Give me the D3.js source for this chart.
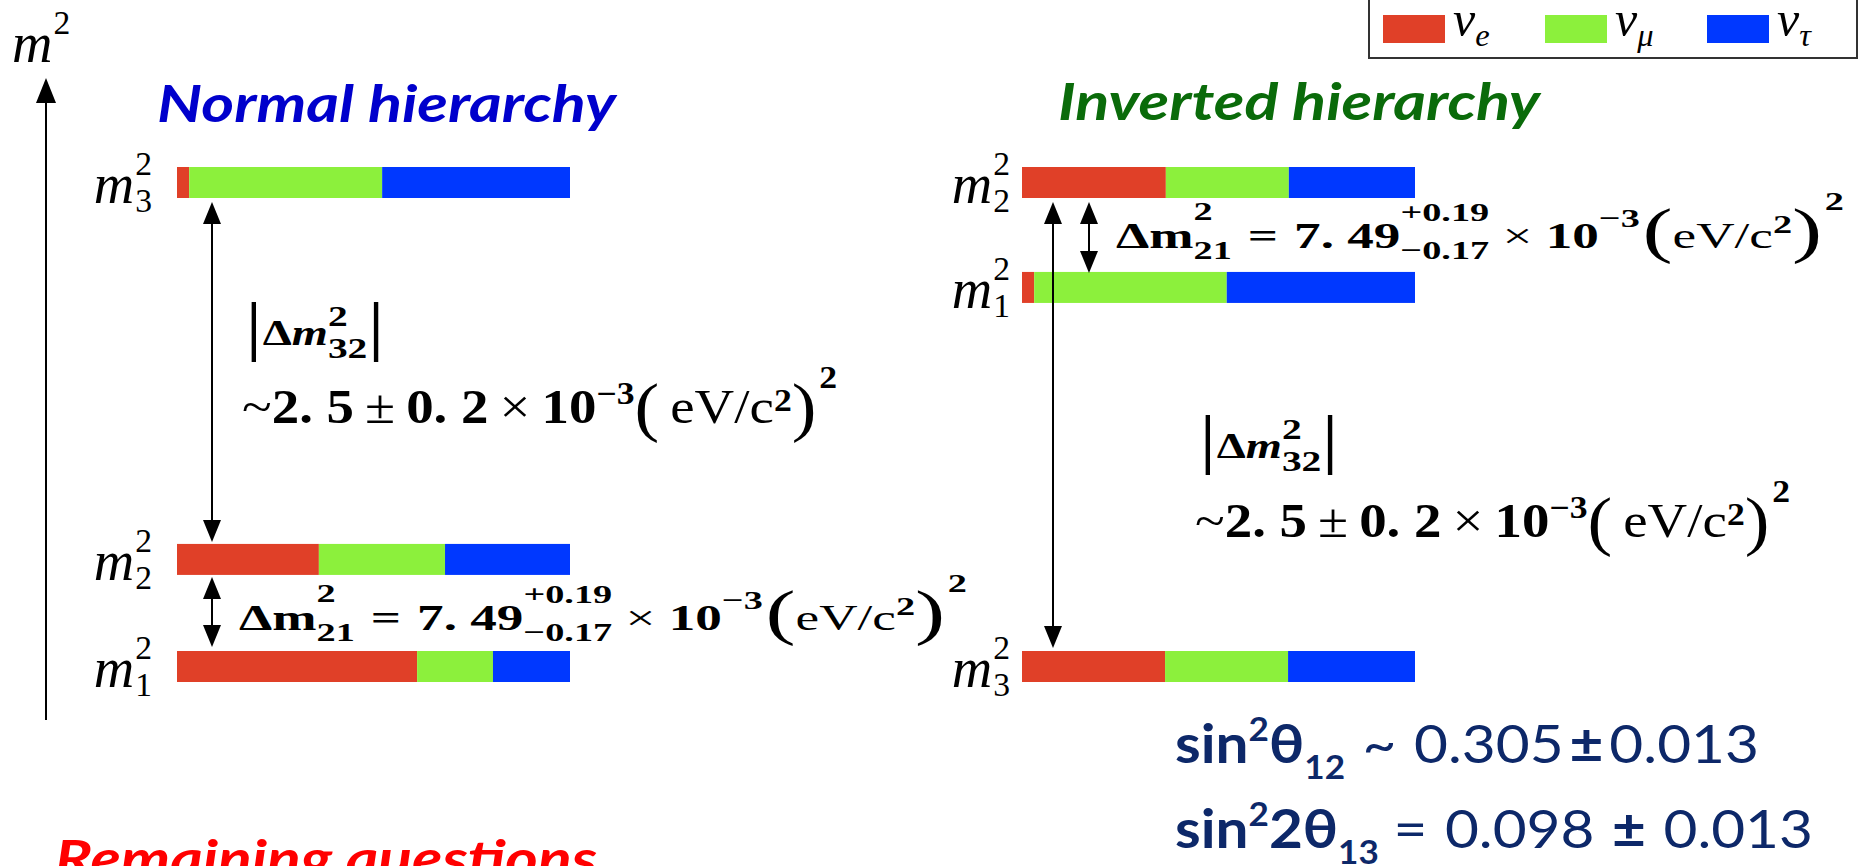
<!DOCTYPE html>
<html>
<head>
<meta charset="utf-8">
<script src="https://cdn.jsdelivr.net/npm/d3@7"></script>
<style>
  body { margin: 0; background: #fff; }
  svg { display: block; }
</style>
</head>
<body>
<div id="chart"></div>
<script>
// flavour content of each mass state, as a fraction of the bar
var flavours = ['e', 'μ', 'τ'];
var flavourColors = ['#e04028', '#8cf03c', '#0038ff'];

// normal hierarchy, top to bottom
var nhStates = ['3', '2', '1'];
var nhLevels = [4.52, 1, 0];
var nhMix = [
  [0.031, 0.491, 0.478],
  [0.361, 0.321, 0.318],
  [0.611, 0.193, 0.196]
];

// inverted hierarchy, top to bottom
var ihStates = ['2', '1', '3'];
var ihLevels = [4.52, 3.54, 0];
var ihMix = [
  [0.366, 0.313, 0.321],
  [0.031, 0.490, 0.479],
  [0.364, 0.313, 0.323]
];

var titles = ['Normal hierarchy', 'Inverted hierarchy'];
var dm21 = ['7. 49', '+0.19', '−0.17'];
var dm32 = ['2. 5', '0. 2'];
var sin12 = ['0.305', '0.013'];
var sin13 = ['0.098', '0.013'];
var footer = 'Remaining questions';

var SERIF = "'Liberation Serif', 'Times New Roman', serif";
var SANS = "Lato, 'Open Sans', 'Noto Sans', sans-serif";
var NAVY = '#0d2869';

var W = 1860, H = 866;
var barH = 31;

var svg = d3.select('#chart').append('svg')
    .attr('width', W)
    .attr('height', H);

// m^2 levels -> pixel (bar top)
var y = d3.scaleLinear().domain([0, 4.52]).range([651, 167]);
var xNH = d3.scaleLinear().domain([0, 1]).range([177, 570]);
var xIH = d3.scaleLinear().domain([0, 1]).range([1022, 1415]);

// lay out a run of text pieces (sup/sub stacks allowed), then squeeze to a width
function drawRun(parts, opt) {
    var g = svg.append('g');
    var cx = 0;
    parts.forEach(function(p) {
        var group = p.stack || [p];
        var w = 0;
        group.forEach(function(q) {
            var t = g.append('text')
                .attr('x', cx)
                .attr('y', opt.y + (q.dy || 0) * opt.size)
                .attr('font-family', q.fam || opt.family)
                .attr('font-size', (q.s || 1) * opt.size)
                .attr('font-weight', q.b ? 'bold' : 'normal')
                .attr('font-style', q.i ? 'italic' : 'normal')
                .attr('fill', opt.fill || '#000')
                .text(q.t);
            w = Math.max(w, t.node().getComputedTextLength());
        });
        cx += w + (p.gap || 0) * opt.size;
    });
    var sx = opt.width ? opt.width / cx : 1;
    var x0 = opt.anchor === 'end' ? opt.x - cx * sx : opt.x;
    g.attr('transform', 'translate(' + x0 + ',0) scale(' + sx + ',1)');
    return g;
}

function arrow(x, y1, y2, both, hw, hl) {
    var g = svg.append('g');
    g.append('line')
        .attr('x1', x).attr('x2', x)
        .attr('y1', y1 + hl * 0.8)
        .attr('y2', both ? y2 - hl * 0.8 : y2)
        .attr('stroke', '#000')
        .attr('stroke-width', 2);
    var line = d3.line();
    g.append('path')
        .attr('d', line([[x, y1], [x - hw / 2, y1 + hl], [x + hw / 2, y1 + hl]]) + 'Z')
        .attr('fill', '#000');
    if (both) {
        g.append('path')
            .attr('d', line([[x, y2], [x - hw / 2, y2 - hl], [x + hw / 2, y2 - hl]]) + 'Z')
            .attr('fill', '#000');
    }
}

function massLabel(xRight, level, idx) {
    drawRun([
        { t: 'm', i: 1, gap: 0.02 },
        { stack: [{ t: '2', s: 0.6, dy: -0.5 }, { t: idx, s: 0.6, dy: 0.16 }] }
    ], { x: xRight, y: y(level) + 36, size: 56, family: SERIF, anchor: 'end' });
}

function drawBars(states, levels, mix, x) {
    states.forEach(function(s, i) {
        var ends = d3.cumsum(mix[i]);
        mix[i].forEach(function(v, j) {
            svg.append('rect')
                .attr('x', x(ends[j] - v))
                .attr('y', y(levels[i]))
                .attr('width', x(ends[j]) - x(ends[j] - v))
                .attr('height', barH)
                .attr('fill', flavourColors[j]);
        });
    });
}

function dm21Run(x0, base) {
    return drawRun([
        { t: 'Δm', b: 1 },
        { stack: [{ t: '2', b: 1, s: 0.72, dy: -0.78 }, { t: '21', b: 1, s: 0.72, dy: 0.3 }], gap: 0.3 },
        { t: '=', b: 1, gap: 0.3 },
        { t: dm21[0], b: 1 },
        { stack: [{ t: dm21[1], b: 1, s: 0.72, dy: -0.76 }, { t: dm21[2], b: 1, s: 0.72, dy: 0.3 }], gap: 0.25 },
        { t: '×', gap: 0.25 },
        { t: '10', b: 1 },
        { t: '−3', b: 1, s: 0.72, dy: -0.58, gap: 0.05 },
        { t: '(', s: 1.7, dy: 0.08 },
        { t: 'eV/c' },
        { t: '2', b: 1, s: 0.72, dy: -0.43 },
        { t: ')', s: 1.7, dy: 0.08, gap: 0.05 },
        { t: '2', b: 1, s: 0.72, dy: -1.05 }
    ], { x: x0, y: base, size: 36, family: SERIF, width: 728 });
}

function dm32Label(x0, base) {
    drawRun([
        { t: '|', s: 1.9, dy: 0.1 },
        { t: 'Δ', b: 1 },
        { t: 'm', b: 1, i: 1 },
        { stack: [{ t: '2', b: 1, s: 0.85, dy: -0.55 }, { t: '32', b: 1, s: 0.85, dy: 0.38 }] },
        { t: '|', s: 1.9, dy: 0.1 }
    ], { x: x0, y: base, size: 35, family: SERIF, width: 140 });
}

function dm32Run(x0, base) {
    drawRun([
        { t: '~' },
        { t: dm32[0], b: 1, gap: 0.2 },
        { t: '±', gap: 0.2 },
        { t: dm32[1], b: 1, gap: 0.2 },
        { t: '×', gap: 0.2 },
        { t: '10', b: 1 },
        { t: '−3', b: 1, s: 0.65, dy: -0.4 },
        { t: '(', s: 1.35, dy: 0.12, gap: 0.2 },
        { t: 'eV/c' },
        { t: '2', b: 1, s: 0.65, dy: -0.25 },
        { t: ')', s: 1.35, dy: 0.12, gap: 0.05 },
        { t: '2', b: 1, s: 0.65, dy: -0.72 }
    ], { x: x0, y: base, size: 48, family: SERIF, width: 595 });
}

function draw() {
    // vertical m^2 axis
    arrow(46, 78, 720, false, 20, 25);
    drawRun([{ t: 'm', i: 1, gap: 0.02 }, { t: '2', s: 0.6, dy: -0.5 }],
        { x: 12, y: 62, size: 56, family: SERIF });

    // titles
    drawRun([{ t: titles[0], b: 1, i: 1 }],
        { x: 157, y: 122, size: 51, family: SANS, fill: '#0000cc', width: 459 });
    drawRun([{ t: titles[1], b: 1, i: 1 }],
        { x: 1058, y: 120, size: 51, family: SANS, fill: '#0a6b0a', width: 482 });

    // bars
    drawBars(nhStates, nhLevels, nhMix, xNH);
    drawBars(ihStates, ihLevels, ihMix, xIH);
    nhStates.forEach(function(s, i) { massLabel(152, nhLevels[i], s); });
    ihStates.forEach(function(s, i) { massLabel(1010, ihLevels[i], s); });

    // splittings, normal
    arrow(212, y(nhLevels[0]) + barH + 4, y(nhLevels[1]) - 2, true, 18, 22);
    arrow(212, y(nhLevels[1]) + barH + 2, y(nhLevels[2]) - 4, true, 18, 22);
    dm32Label(245, 345);
    dm32Run(242, 423);
    dm21Run(239, 630);

    // splittings, inverted
    arrow(1053, y(ihLevels[0]) + barH + 4, y(ihLevels[2]) - 3, true, 18, 22);
    arrow(1089, y(ihLevels[0]) + barH + 4, y(ihLevels[1]) + 1, true, 18, 22);
    dm21Run(1116, 248);
    dm32Label(1199, 458);
    dm32Run(1195, 537);

    // mixing angles
    drawRun([
        { t: 'sin', b: 1 },
        { t: '2', b: 1, s: 0.6, dy: -0.42 },
        { t: 'θ', b: 1 },
        { t: '12', b: 1, s: 0.6, dy: 0.3, gap: 0.3 },
        { t: '~', gap: 0.3 },
        { t: sin12[0], gap: 0.1 },
        { t: '±', b: 1, gap: 0.1 },
        { t: sin12[1] }
    ], { x: 1175, y: 763, size: 53, family: SANS, fill: NAVY, width: 584 });
    drawRun([
        { t: 'sin', b: 1 },
        { t: '2', b: 1, s: 0.6, dy: -0.42 },
        { t: '2θ', b: 1 },
        { t: '13', b: 1, s: 0.6, dy: 0.3, gap: 0.25 },
        { t: '=', gap: 0.3 },
        { t: sin13[0], gap: 0.3 },
        { t: '±', b: 1, gap: 0.3 },
        { t: sin13[1] }
    ], { x: 1175, y: 848, size: 53, family: SANS, fill: NAVY, width: 638 });

    // legend
    svg.append('rect')
        .attr('x', 1369).attr('y', -10)
        .attr('width', 488).attr('height', 68)
        .attr('fill', '#fff')
        .attr('stroke', '#333')
        .attr('stroke-width', 2);
    var lx = d3.scalePoint().domain(flavours).range([1383, 1707]);
    flavours.forEach(function(f, j) {
        svg.append('rect')
            .attr('x', lx(f)).attr('y', 15)
            .attr('width', 62).attr('height', 28)
            .attr('fill', flavourColors[j]);
        drawRun([{ t: 'ν', i: 1 }, { t: f, i: 1, s: 0.65, dy: 0.2 }],
            { x: lx(f) + 70, y: 36, size: 50, family: SERIF });
    });

    // cut-off footer
    drawRun([{ t: footer, b: 1, i: 1 }],
        { x: 55, y: 877, size: 51, family: SANS, fill: '#ff0000', width: 542 });
}

document.fonts.ready.then(draw);
</script>
</body>
</html>
